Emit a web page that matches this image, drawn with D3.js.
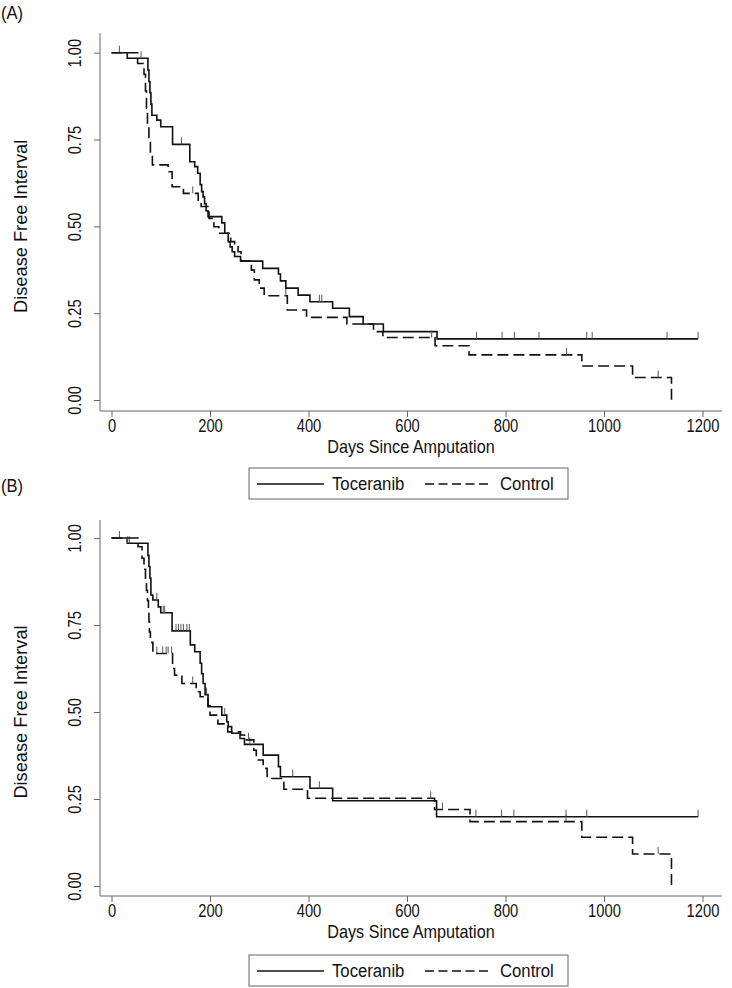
<!DOCTYPE html>
<html>
<head>
<meta charset="utf-8">
<script src="https://cdn.jsdelivr.net/npm/d3@7"></script>
<style>
  body { margin: 0; background: #fff; }
  svg text { font-family: "Liberation Sans Narrow", "Liberation Sans", Arial, sans-serif; fill: #111; }
</style>
</head>
<body>
<div id="chart"></div>
<script>
const width = 732, height = 988;

// x ticks / y ticks
const dayTicks = [0, 200, 400, 600, 800, 1000, 1200];
const survTicks = [0, 0.25, 0.5, 0.75, 1];

// (A) Toceranib: [day, survival after drop]
const tocA = [[32, 0.984], [74, 0.95], [76, 0.917], [78, 0.885], [80, 0.852], [82, 0.820],
  [92, 0.806], [100, 0.787], [124, 0.736], [159, 0.686], [169, 0.672], [175, 0.653],
  [180, 0.62], [183, 0.60], [186, 0.585], [189, 0.565], [192, 0.545], [196, 0.528],
  [224, 0.510], [230, 0.480], [237, 0.456], [241, 0.441], [245, 0.427], [250, 0.413],
  [262, 0.400], [307, 0.379], [339, 0.363], [343, 0.343], [354, 0.322], [379, 0.302],
  [403, 0.283], [449, 0.264], [483, 0.240], [511, 0.219], [552, 0.197], [661, 0.176]];
const tocEndA = 1191;
const tocCensA = [16, 60, 142, 422, 427, 741, 793, 818, 868, 965, 976, 1128, 1191];

// (A) Control
const ctlA = [[53, 0.969], [66, 0.938], [69, 0.89], [71, 0.84], [73, 0.79], [76, 0.75],
  [79, 0.71], [83, 0.677], [115, 0.657], [123, 0.614], [146, 0.595], [176, 0.575],
  [182, 0.557], [198, 0.523], [208, 0.499], [218, 0.48], [242, 0.456], [250, 0.441],
  [257, 0.427], [263, 0.40], [284, 0.374], [290, 0.346], [300, 0.322], [310, 0.30],
  [357, 0.259], [396, 0.238], [478, 0.219], [532, 0.197], [551, 0.18], [657, 0.156],
  [726, 0.13], [955, 0.098], [1058, 0.065], [1137, 0.0]];
const ctlEndA = 1137;
const ctlCensA = [165, 354, 650, 924, 1110];

// (B) Toceranib
const tocB = [[32, 0.985], [74, 0.95], [76, 0.918], [78, 0.885], [80, 0.836], [84, 0.822],
  [95, 0.802], [100, 0.785], [123, 0.733], [160, 0.693], [169, 0.673], [180, 0.64],
  [183, 0.61], [186, 0.582], [190, 0.55], [196, 0.515], [224, 0.491], [234, 0.472],
  [237, 0.458], [244, 0.439], [261, 0.424], [270, 0.407], [308, 0.376], [339, 0.343],
  [343, 0.314], [403, 0.281], [449, 0.245], [660, 0.199]];
const tocEndB = 1191;
const tocCensB = [16, 32, 36, 92, 105, 108, 131, 136, 141, 146, 153, 158, 193, 230,
  261, 281, 368, 422, 740, 792, 817, 923, 965, 1191];

// (B) Control
const ctlB = [[54, 0.975], [62, 0.942], [66, 0.91], [69, 0.88], [71, 0.85], [73, 0.82],
  [75, 0.79], [76, 0.76], [77, 0.73], [79, 0.70], [84, 0.668], [124, 0.625], [128, 0.606],
  [143, 0.582], [172, 0.558], [180, 0.544], [196, 0.518], [200, 0.491], [216, 0.466],
  [236, 0.443], [262, 0.434], [270, 0.42], [289, 0.39], [294, 0.362], [308, 0.338],
  [316, 0.309], [350, 0.278], [398, 0.252], [656, 0.22], [728, 0.185], [955, 0.14],
  [1058, 0.092], [1137, 0.0]];
const ctlEndB = 1137;
const ctlCensB = [92, 104, 111, 115, 122, 165, 278, 648, 672, 923, 1110];

const groups = ["Toceranib", "Control"];

const panels = [
  { label: "(A)", labelY: 19, top: 52.7, bottom: 400, axisTop: 33, axisBottom: 411, legendY: 468,
    series: [{ steps: tocA, end: tocEndA, cens: tocCensA, dash: null },
             { steps: ctlA, end: ctlEndA, cens: ctlCensA, dash: "11,5" }] },
  { label: "(B)", labelY: 492, top: 538, bottom: 886, axisTop: 520, axisBottom: 896, legendY: 955,
    series: [{ steps: tocB, end: tocEndB, cens: tocCensB, dash: null },
             { steps: ctlB, end: ctlEndB, cens: ctlCensB, dash: "11,5" }] }
];

const svg = d3.select("#chart").append("svg")
  .attr("width", width)
  .attr("height", height);

const x = d3.scaleLinear().domain([0, 1200]).range([111.5, 702.5]);
const axisColor = "#666";

function survAt(steps, t) {
  let s = 1;
  steps.forEach(function(d) { if (d[0] <= t) s = d[1]; });
  return s;
}

// narrow-looking text placed at (px, py)
function narrowText(g, px, py, str, size, sx, rot) {
  return g.append("text")
    .attr("transform", "translate(" + px + "," + py + ")" + (rot ? " rotate(" + rot + ")" : "") + " scale(" + sx + ",1)")
    .style("font-size", size + "px")
    .text(str);
}

panels.forEach(function(p) {
  const y = d3.scaleLinear().domain([0, 1]).range([p.bottom, p.top]);
  const g = svg.append("g");

  narrowText(g, 1, p.labelY, p.label, 18, 0.92, 0);

  // axis lines
  g.append("line")
    .attr("x1", 100).attr("x2", 100)
    .attr("y1", p.axisTop).attr("y2", p.axisBottom)
    .attr("stroke", axisColor);
  g.append("line")
    .attr("x1", 100).attr("x2", 722)
    .attr("y1", p.axisBottom).attr("y2", p.axisBottom)
    .attr("stroke", axisColor);

  const xAxis = g.append("g")
    .attr("transform", "translate(0," + p.axisBottom + ")")
    .call(d3.axisBottom(x).tickValues(dayTicks).tickSize(6).tickFormat(d3.format("d")));
  xAxis.select(".domain").remove();
  xAxis.selectAll("line").attr("stroke", axisColor);
  xAxis.selectAll("text")
    .style("font-size", "18px").attr("fill", "#111")
    .attr("y", 21).attr("dy", null)
    .attr("transform", "scale(0.82,1)");

  const yAxis = g.append("g")
    .attr("transform", "translate(100,0)")
    .call(d3.axisLeft(y).tickValues(survTicks).tickSize(6).tickFormat(d3.format(".2f")));
  yAxis.select(".domain").remove();
  yAxis.selectAll("line").attr("stroke", axisColor);
  yAxis.selectAll("text")
    .style("font-size", "18px").attr("fill", "#111")
    .attr("x", null).attr("dy", null)
    .attr("text-anchor", "middle")
    .attr("transform", "translate(-19,0) rotate(-90) scale(0.82,1)");

  narrowText(g, (100 + 722) / 2, p.axisBottom + 42, "Days Since Amputation", 18, 0.9, 0)
    .attr("text-anchor", "middle");

  narrowText(g, 27, (p.top + p.bottom) / 2, "Disease Free Interval", 19, 0.96, -90)
    .attr("text-anchor", "middle");

  const line = d3.line()
    .x(function(d) { return x(d[0]); })
    .y(function(d) { return y(d[1]); })
    .curve(d3.curveStepAfter);

  p.series.forEach(function(s) {
    const last = s.steps[s.steps.length - 1];
    const pts = [[0, 1]].concat(s.steps);
    if (s.end > last[0]) pts.push([s.end, last[1]]);
    g.append("path")
      .datum(pts)
      .attr("d", line)
      .attr("fill", "none")
      .attr("stroke", "#111")
      .attr("stroke-width", 1.6)
      .attr("stroke-dasharray", s.dash);

    g.selectAll(null)
      .data(s.cens)
      .enter().append("line")
      .attr("x1", function(d) { return x(d); })
      .attr("x2", function(d) { return x(d); })
      .attr("y1", function(d) { return y(survAt(s.steps, d)); })
      .attr("y2", function(d) { return y(survAt(s.steps, d)) - 7; })
      .attr("stroke", "#555")
      .attr("stroke-width", 1);
  });

  // legend
  const lg = g.append("g").attr("transform", "translate(249," + p.legendY + ")");
  lg.append("rect")
    .attr("width", 319).attr("height", 31)
    .attr("fill", "#fff").attr("stroke", axisColor);
  const items = [{ x: 8, tx: 83, dash: null }, { x: 176, tx: 251, dash: "9,4.5" }];
  items.forEach(function(it, i) {
    lg.append("line")
      .attr("x1", it.x).attr("x2", it.x + 67)
      .attr("y1", 16).attr("y2", 16)
      .attr("stroke", "#111").attr("stroke-width", 1.6)
      .attr("stroke-dasharray", it.dash);
    narrowText(lg, it.tx, 22, groups[i], 19, 0.88, 0);
  });
});
</script>
</body>
</html>
